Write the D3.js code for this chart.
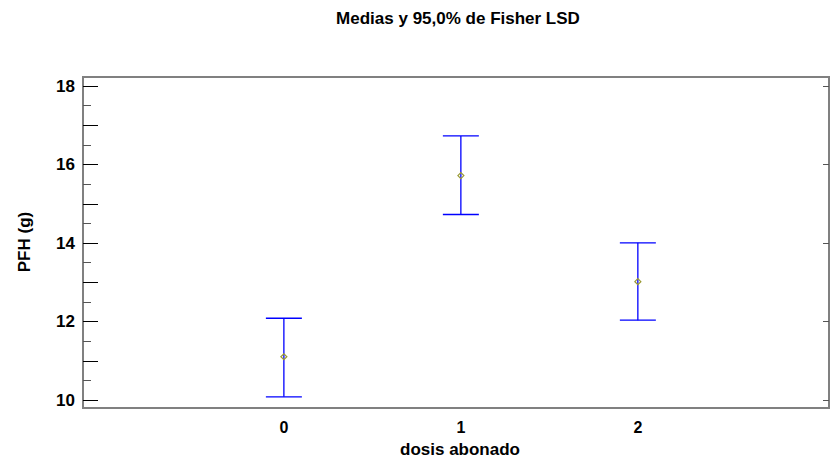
<!DOCTYPE html>
<html><head><meta charset="utf-8">
<script src="https://cdn.jsdelivr.net/npm/d3@7"></script>
<style>body{margin:0;background:#fff}svg{display:block}text{font-family:"Liberation Sans",Arial,sans-serif;font-weight:bold}</style>
</head><body>
<script>
const categories = ["0","1","2"];
const means = [11.10, 15.71, 13.01];
const lower = [10.08, 14.72, 12.03];
const upper = [12.08, 16.72, 14.00];
const yTicks = [10,12,14,16,18];
const title = "Medias y 95,0% de Fisher LSD";
const xTitle = "dosis abonado";
const yTitle = "PFH (g)";

const W=830,H=460;
const svg=d3.select("body").append("svg").attr("width",W).attr("height",H);
const L=83,R=829,T=77,B=408;
const x=d3.scaleLinear().domain([-1.135,3.08]).range([L,R]);
const y=d3.scaleLinear().domain([9.795,18.22]).range([B,T]);

// frame
svg.append("rect").attr("x",L).attr("y",T).attr("width",R-L).attr("height",B-T)
  .attr("fill","none").attr("stroke","#808080").attr("stroke-width",2);

// left axis ticks
const minor=d3.range(10,18.01,0.5);
svg.append("g").selectAll("line").data(minor).join("line")
  .attr("x1",L).attr("x2",d=>Number.isInteger(d)?L+15:L+8)
  .attr("y1",d=>Math.round(y(d))+0.5).attr("y2",d=>Math.round(y(d))+0.5)
  .attr("stroke",d=>Number.isInteger(d)?"#000":"#555").attr("stroke-width",1);
svg.append("g").selectAll("text").data(yTicks).join("text")
  .attr("x",L-8).attr("y",d=>y(d)+6).attr("text-anchor","end")
  .attr("font-size",17).text(d=>d);
// right ticks
svg.append("g").selectAll("line").data(yTicks).join("line")
  .attr("x1",R-6).attr("x2",R).attr("y1",d=>Math.round(y(d))+0.5).attr("y2",d=>Math.round(y(d))+0.5)
  .attr("stroke","#555").attr("stroke-width",1);

// x tick labels
svg.append("g").selectAll("text").data(categories).join("text")
  .attr("x",(d,i)=>x(i)).attr("y",433).attr("text-anchor","middle")
  .attr("font-size",16).text(d=>d);

// error bars
const g=svg.append("g");
categories.forEach((c,i)=>{
  const cx=x(i);
  g.append("line").attr("x1",cx).attr("x2",cx).attr("y1",y(upper[i])).attr("y2",y(lower[i]))
    .attr("stroke","#0000ff").attr("stroke-width",1.3);
  [upper[i],lower[i]].forEach(v=>{
    g.append("line").attr("x1",cx-18).attr("x2",cx+18).attr("y1",y(v)).attr("y2",y(v))
      .attr("stroke","#0000ff").attr("stroke-width",1.3);
  });
  const my=y(means[i]);
  g.append("path").attr("d",`M${cx-3},${my}L${cx},${my-3}L${cx+3},${my}L${cx},${my+3}Z`)
    .attr("fill","none").attr("stroke","#9a9a33").attr("stroke-width",1.2);
});

// titles
svg.append("text").attr("x",458).attr("y",24).attr("text-anchor","middle").attr("font-size",17).text(title);
svg.append("text").attr("x",460).attr("y",455).attr("text-anchor","middle").attr("font-size",17).text(xTitle);
svg.append("text").attr("transform","translate(30,242) rotate(-90)").attr("text-anchor","middle").attr("font-size",17).text(yTitle);
</script>
</body></html>
